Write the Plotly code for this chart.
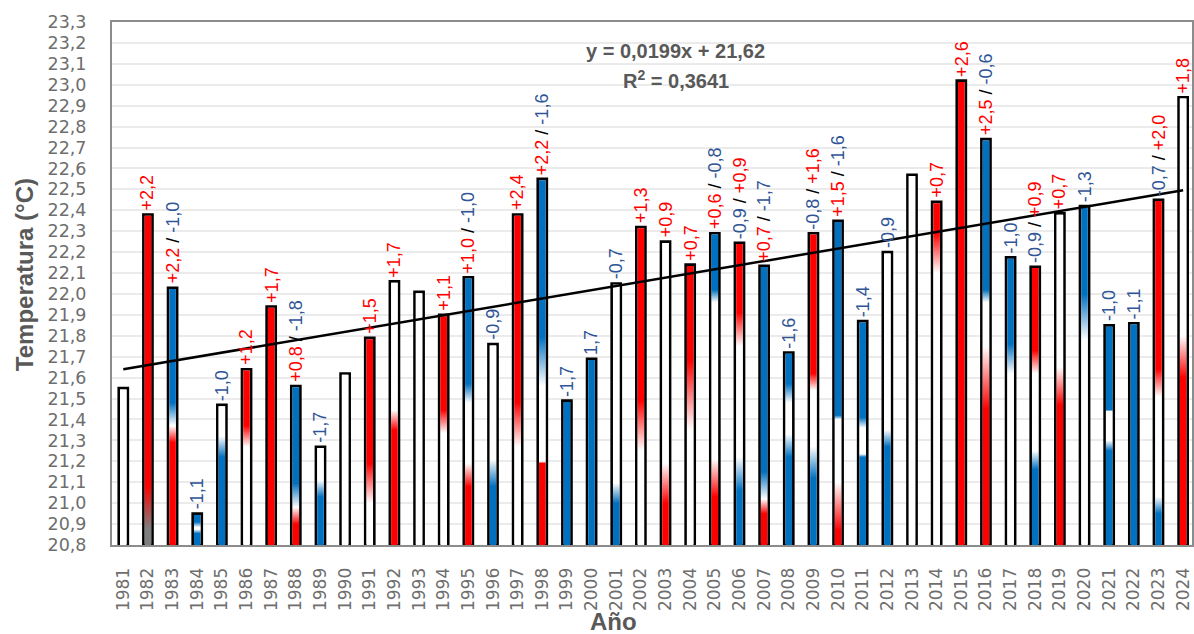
import plotly.graph_objects as go

# Mean annual temperature (°C), 1981-2024
years = list(range(1981, 2025))
temps = [21.55, 22.38, 22.03, 20.95, 21.47, 21.64, 21.94, 21.56, 21.27, 21.62,
         21.79, 22.06, 22.01, 21.90, 22.08, 21.76, 22.38, 22.55, 21.49, 21.69,
         22.05, 22.32, 22.25, 22.14, 22.29, 22.245, 22.135, 21.72, 22.29, 22.35,
         21.87, 22.20, 22.57, 22.44, 23.02, 22.74, 22.175, 22.13, 22.385, 22.42,
         21.85, 21.86, 22.45, 22.94]

# Anomaly notes over each bar: list of (text, kind) pieces; kind r=warm, b=cold, s=separator
notes = {
    1982: [("+2,2", "r")],
    1983: [("+2,2", "r"), (" / ", "s"), ("-1,0", "b")],
    1984: [("-1,1", "b")],
    1985: [("-1,0", "b")],
    1986: [("+1,2", "r")],
    1987: [("+1,7", "r")],
    1988: [("+0,8", "r"), (" / ", "s"), ("-1,8", "b")],
    1989: [("-1,7", "b")],
    1991: [("+1,5", "r")],
    1992: [("+1,7", "r")],
    1994: [("+1,1", "r")],
    1995: [("+1,0", "r"), (" / ", "s"), ("-1,0", "b")],
    1996: [("-0,9", "b")],
    1997: [("+2,4", "r")],
    1998: [("+2,2", "r"), (" / ", "s"), ("-1,6", "b")],
    1999: [("-1,7", "b")],
    2000: [("1,7", "b")],
    2001: [("-0,7", "b")],
    2002: [("+1,3", "r")],
    2003: [("+0,9", "r")],
    2004: [("+0,7", "r")],
    2005: [("+0,6", "r"), (" / ", "s"), ("-0,8", "b")],
    2006: [("-0,9", "b"), (" / ", "s"), ("+0,9", "r")],
    2007: [("+0,7", "r"), (" / ", "s"), ("-1,7", "b")],
    2008: [("-1,6", "b")],
    2009: [("-0,8", "b"), (" / ", "s"), ("+1,6", "r")],
    2010: [("+1,5", "r"), (" / ", "s"), ("-1,6", "b")],
    2011: [("-1,4", "b")],
    2012: [("-0,9", "b")],
    2014: [("+0,7", "r")],
    2015: [("+2,6", "r")],
    2016: [("+2,5", "r"), (" / ", "s"), ("-0,6", "b")],
    2017: [("-1,0", "b")],
    2018: [("-0,9", "b"), (" / ", "s"), ("+0,9", "r")],
    2019: [("+0,7", "r")],
    2020: [("-1,3", "b")],
    2021: [("-1,0", "b")],
    2022: [("-1,1", "b")],
    2023: [("-0,7", "b"), (" / ", "s"), ("+2,0", "r")],
    2024: [("+1,8", "r")],
}

# Linear trend as reported: y = 0,0199x + 21,62 (x = 1 for 1981)
trend_slope = 0.0199
trend_intercept = 21.62
trend_r2 = 0.3641

# Vertical colour bands of each bar, bottom to top: (temperature, colour key)
fill_stops = {
    1981: [(20.8, "W")],
    1982: [(20.88, "G"), (21.08, "R")],
    1983: [(21.29, "R"), (21.37, "W"), (21.48, "B")],
    1984: [(20.855, "B"), (20.875, "W"), (20.885, "W"), (20.91, "B")],
    1985: [(21.22, "B"), (21.32, "W")],
    1986: [(21.27, "W"), (21.37, "R")],
    1987: [(20.8, "R")],
    1988: [(20.90, "R"), (20.98, "W"), (21.095, "B")],
    1989: [(21.03, "B"), (21.11, "W")],
    1990: [(20.8, "W")],
    1991: [(21.0, "W"), (21.19, "R")],
    1992: [(21.35, "R"), (21.445, "W")],
    1993: [(20.8, "W")],
    1994: [(21.335, "W"), (21.445, "R")],
    1995: [(21.08, "R"), (21.19, "W"), (21.48, "W"), (21.57, "B")],
    1996: [(21.08, "B"), (21.21, "W")],
    1997: [(21.27, "W"), (21.48, "R")],
    1998: [(21.19, "R"), (21.20, "W"), (21.56, "W"), (21.795, "B")],
    1999: [(20.8, "B")],
    2000: [(20.8, "B")],
    2001: [(21.0, "B"), (21.095, "W")],
    2002: [(21.25, "W"), (21.49, "R")],
    2003: [(21.0, "R"), (21.19, "W")],
    2004: [(21.35, "W"), (21.68, "R")],
    2005: [(21.03, "R"), (21.21, "W"), (21.96, "W"), (22.02, "B")],
    2006: [(21.06, "B"), (21.22, "W"), (21.75, "W"), (21.91, "R")],
    2007: [(20.95, "R"), (21.02, "W"), (21.15, "B")],
    2008: [(21.22, "B"), (21.33, "W"), (21.48, "W"), (21.57, "B")],
    2009: [(21.12, "B"), (21.27, "W"), (21.54, "W"), (21.62, "R")],
    2010: [(20.87, "R"), (21.10, "W"), (21.40, "W"), (21.42, "B")],
    2011: [(21.22, "B"), (21.235, "W"), (21.36, "W"), (21.41, "B")],
    2012: [(21.27, "B"), (21.35, "W")],
    2013: [(20.8, "W")],
    2014: [(22.10, "W"), (22.29, "R")],
    2015: [(20.8, "R")],
    2016: [(21.45, "R"), (21.75, "W"), (21.96, "W"), (22.02, "B")],
    2017: [(21.62, "W"), (21.76, "B")],
    2018: [(21.16, "B"), (21.25, "W"), (21.62, "W"), (21.73, "R")],
    2019: [(21.47, "R"), (21.65, "W")],
    2020: [(21.78, "W"), (22.0, "B")],
    2021: [(21.25, "B"), (21.30, "W"), (21.44, "W"), (21.445, "B")],
    2022: [(20.8, "B")],
    2023: [(20.95, "B"), (21.03, "W"), (21.51, "W"), (21.64, "R")],
    2024: [(21.6, "R"), (21.80, "W")],
}

PALETTE = {"R": "#FF0000", "B": "#0070C0", "W": "#FFFFFF", "G": "#7F7F7F"}
TEXT_COLORS = {"r": "#FF0000", "b": "#2F5597", "s": "#000000"}

Y_MIN, Y_MAX = 20.8, 23.3
X_MIN, X_MAX = 1980.542, 2024.36
W, H = 1194, 634
M_L, M_R, M_T, M_B = 112, 0, 22, 89
BAR_W = 0.37
LINE_PX = 2.6

px_x = (W - M_L - M_R) / (X_MAX - X_MIN)
px_y = (H - M_T - M_B) / (Y_MAX - Y_MIN)
half_in = BAR_W / 2 - (LINE_PX / 2) / px_x
top_in = (LINE_PX / 2) / px_y


def scale_for(stops):
    cs = [[0.0, PALETTE[stops[0][1]]]]
    for t, c in stops:
        f = (t - Y_MIN) / (Y_MAX - Y_MIN)
        f = min(max(f, 0.0), 1.0)
        if f > cs[-1][0]:
            cs.append([f, PALETTE[c]])
    if cs[-1][0] < 1.0:
        cs.append([1.0, PALETTE[stops[-1][1]]])
    return cs


def to_paper(px, py):
    """Pixel position on the page -> paper coordinates."""
    return ((px - M_L) / (W - M_L - M_R),
            (H - M_B - py) / (H - M_T - M_B))


fig = go.Figure()

# Gradient fills of the bars
for yr, t in zip(years, temps):
    x0, x1 = yr - half_in, yr + half_in
    fig.add_trace(go.Scatter(
        x=[x0, x1, x1, x0, x0],
        y=[Y_MIN, Y_MIN, t - top_in, t - top_in, Y_MIN],
        mode="none", fill="toself",
        fillgradient=dict(type="vertical", colorscale=scale_for(fill_stops[yr]),
                          start=Y_MIN, stop=Y_MAX),
        showlegend=False, hoverinfo="skip",
    ))

# Bar outlines
fig.add_trace(go.Bar(
    x=years, y=[t - Y_MIN for t in temps], base=Y_MIN, width=BAR_W,
    marker=dict(color="rgba(0,0,0,0)", line=dict(color="#000000", width=LINE_PX)),
    showlegend=False, hoverinfo="skip",
))

# Trend line
idx = list(range(1, len(years) + 1))
fig.add_trace(go.Scatter(
    x=years, y=[trend_slope * i + trend_intercept for i in idx],
    mode="lines", line=dict(color="#000000", width=2.5),
    showlegend=False, hoverinfo="skip",
))

# Anomaly labels above bars
annotations = []
for yr, t in zip(years, temps):
    if yr not in notes:
        continue
    txt = "".join(f'<span style="color:{TEXT_COLORS[k]}">{s}</span>' for s, k in notes[yr])
    annotations.append(dict(
        x=yr, y=t, xref="x", yref="y", text=txt, showarrow=False,
        textangle=-90, xanchor="center", yanchor="bottom", yshift=2,
        font=dict(family="Liberation Sans, Arial", size=18),
    ))

eq_font = dict(family="Liberation Sans, Arial", size=20, color="#595959")
title_font = dict(family="Liberation Sans, Arial", size=24, color="#595959")
free_texts = [
    ("<b>y = 0,0199x + 21,62</b>", 677, 51, 0, eq_font),
    ("<b>R<sup>2</sup> = 0,3641</b>", 677, 79, 0, eq_font),
    ("<b>Temperatura (°C)</b>", 24, 275, -90, title_font),
    ("<b>Año</b>", 614, 621, 0, title_font),
]
for text, px, py, ang, fnt in free_texts:
    ax, ay = to_paper(px, py)
    annotations.append(dict(
        x=ax, y=ay, xref="paper", yref="paper", showarrow=False, text=text,
        textangle=ang, xanchor="center", yanchor="middle", font=fnt,
    ))

fig.update_layout(
    width=W, height=H,
    margin=dict(l=M_L, r=M_R, t=M_T, b=M_B, pad=0),
    paper_bgcolor="#FFFFFF", plot_bgcolor="#FFFFFF",
    separators=",.",
    barmode="overlay",
    annotations=annotations,
    xaxis=dict(
        range=[X_MIN, X_MAX], tickvals=years, ticktext=[str(y) for y in years],
        tickangle=-90, showgrid=False, zeroline=False,
        showline=True, linecolor="#8C8C8C", linewidth=2, mirror=True,
        ticks="", ticklabelstandoff=14,
        tickfont=dict(family="DejaVu Sans", size=17, color="#6E6E6E"),
    ),
    yaxis=dict(
        range=[Y_MIN, Y_MAX], tick0=20.8, dtick=0.1, tickformat=".1f",
        showgrid=True, gridcolor="#EBEBEB", gridwidth=2, zeroline=False,
        showline=True, linecolor="#8C8C8C", linewidth=2, mirror=True,
        ticks="", ticklabelstandoff=20,
        tickfont=dict(family="DejaVu Sans", size=17.5, color="#6E6E6E"),
    ),
)

fig.write_html("out.html")
